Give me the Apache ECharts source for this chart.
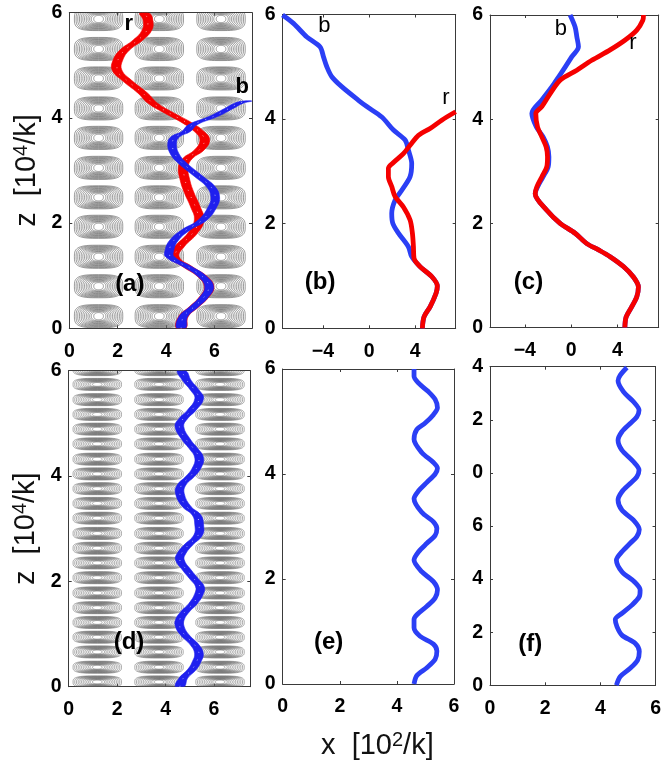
<!DOCTYPE html>
<html><head><meta charset="utf-8">
<style>html,body{margin:0;padding:0;background:#fff}#c{width:664px;height:765px}</style>
<script src="https://cdn.jsdelivr.net/npm/echarts@6/dist/echarts.min.js"></script>
</head><body><div id="c"></div>
<script>
// [x, z] pairs
var sharedLowA = [[4.62,0],[4.71,.22],[5.16,.41],[5.58,.60],[5.78,.79],[5.51,.98],[4.89,1.17]];
var blueA = sharedLowA.concat([[4.16,1.36],[4.14,1.49],[4.34,1.68],[4.82,1.87],[5.51,2.06],[5.92,2.31],[6.03,2.50],[5.85,2.69],[5.37,2.88],[4.68,3.14],[4.34,3.33],[4.25,3.52],[4.38,3.64],[4.82,3.74],[5.10,3.87],[5.92,4.02],[6.60,4.18],[7.01,4.28],[7.36,4.32]]);
var redA = sharedLowA.concat([[4.34,1.36],[4.55,1.55],[5.10,1.81],[5.37,2.06],[5.21,2.31],[4.96,2.57],[4.78,2.82],[4.71,3.07],[4.89,3.23],[5.37,3.39],[5.60,3.58],[5.37,3.74],[4.89,3.90],[4.14,4.09],[3.45,4.28],[3.04,4.47],[2.36,4.72],[1.97,4.91],[2.01,5.10],[2.29,5.29],[2.84,5.48],[3.21,5.67],[3.25,5.86],[3.11,5.99]]);
var sharedLowB = [[4.61,0],[4.76,.22],[5.28,.41],[5.80,.67],[5.91,.81],[5.42,.99],[4.41,1.18]];
var redB = sharedLowB.concat([[3.89,1.34],[3.84,1.56],[3.75,1.82],[3.55,2.07],[2.97,2.32],[2.25,2.52],[1.96,2.71],[1.67,2.90],[1.67,3.06],[2.16,3.18],[2.97,3.34],[3.69,3.54],[4.27,3.69],[5.28,3.82],[6.29,3.98],[7.50,4.14]]);
var blueB = sharedLowB.concat([[3.69,1.37],[3.40,1.56],[2.54,1.82],[2.05,2.01],[1.96,2.20],[2.25,2.45],[2.83,2.64],[3.55,2.90],[3.69,3.15],[3.40,3.41],[3.12,3.60],[2.11,3.79],[1.10,4.04],[-0.20,4.24],[-0.92,4.36],[-2.37,4.62],[-3.23,4.81],[-3.66,5.0],[-3.95,5.19],[-4.24,5.38],[-5.39,5.57],[-6.55,5.83],[-7.5,5.99]]);
var redC = [[4.63,0],[4.74,.20],[5.23,.40],[5.66,.59],[5.80,.78],[5.37,.97],[4.51,1.17],[3.36,1.36],[2.36,1.49],[1.35,1.61],[.34,1.81],[-.95,2.0],[-2.10,2.25],[-3.10,2.57],[-2.96,2.70],[-2.53,2.89],[-2.10,3.09],[-2.04,3.28],[-2.16,3.47],[-2.53,3.66],[-2.90,3.85],[-3.05,4.11],[-2.53,4.24],[-1.81,4.49],[-.95,4.75],[.49,4.94],[1.78,5.13],[3.36,5.33],[4.66,5.52],[5.66,5.71],[6.18,5.90],[6.24,6.0]];
var blueC = redC.slice(0,14).concat([[-2.90,2.70],[-2.43,2.89],[-1.98,3.09],[-1.92,3.28],[-2.05,3.47],[-2.42,3.66],[-3.00,3.85],[-3.39,4.11],[-2.53,4.37],[-1.67,4.62],[-1.09,4.81],[-.52,5.0],[.06,5.2],[.63,5.39],[.49,5.58],[.34,5.77],[-.09,6.0]]);
var blueD = [[4.59,0],[4.73,.16],[5.08,.32],[5.28,.47],[5.38,.63],[5.21,.79],[4.80,.98],[4.59,1.14],[4.59,1.27],[4.80,1.42],[5.14,1.58],[5.39,1.77],[5.42,1.90],[5.21,2.03],[4.87,2.22],[4.59,2.41],[4.66,2.53],[4.94,2.69],[5.35,2.88],[5.39,3.07],[5.28,3.26],[4.87,3.42],[4.59,3.67],[4.66,3.83],[5.01,3.99],[5.28,4.15],[5.39,4.34],[5.14,4.53],[4.87,4.68],[4.57,4.94],[4.73,5.09],[5.08,5.25],[5.39,5.47],[5.21,5.63],[4.87,5.82],[4.66,6.0]];
var blueE = [[4.60,0],[4.70,.16],[5.05,.31],[5.34,.47],[5.40,.63],[5.28,.76],[4.81,.91],[4.60,1.07],[4.60,1.23],[4.70,1.32],[5.05,1.48],[5.34,1.64],[5.42,1.79],[5.28,1.95],[4.87,2.14],[4.60,2.36],[4.76,2.52],[5.05,2.68],[5.34,2.83],[5.40,2.96],[5.28,3.09],[4.87,3.27],[4.60,3.53],[4.76,3.68],[5.05,3.84],[5.34,4.0],[5.42,4.11],[5.28,4.22],[4.87,4.41],[4.60,4.66],[4.70,4.85],[4.99,4.97],[5.28,5.13],[5.42,5.26],[5.34,5.42],[5.10,5.57],[4.76,5.73],[4.60,5.86],[4.60,6.0]];
var blueF = [[4.58,0],[4.72,.33],[5.08,.64],[5.35,.95],[5.41,1.27],[5.26,1.58],[4.78,1.89],[4.60,2.21],[4.54,2.48],[4.78,2.71],[5.14,3.02],[5.41,3.34],[5.44,3.59],[5.23,3.90],[4.78,4.28],[4.58,4.72],[4.78,5.03],[5.08,5.35],[5.32,5.60],[5.41,5.87],[5.20,6.22],[4.78,6.60],[4.64,6.98],[4.78,7.29],[5.08,7.60],[5.32,7.85],[5.40,8.11],[5.20,8.42],[4.78,8.86],[4.64,9.23],[4.78,9.55],[5.08,9.86],[5.32,10.11],[5.40,10.36],[5.20,10.68],[4.84,11.05],[4.64,11.47],[4.72,11.68],[4.96,11.97]];

// contour cells
var cellXA = [1.21,3.72,6.27];
var cellZA = [.23,.80,1.36,1.93,2.49,3.05,3.62,4.18,4.75,5.31,5.88];
var cellXD = [1.18,3.73,6.25];
var cellZD = [.09,.37,.66,.94,1.22,1.50,1.78,2.07,2.35,2.63,2.91,3.20,3.48,3.76,4.04,4.32,4.61,4.89,5.17,5.45,5.74,6.02];
var contourLevels = [1,.93,.86,.79,.72,.65,.58,.51,.44,.37,.30,.2];

// tick values and tick labels
var ticksX06 = [0,2,4,6];
var ticksXSym = [-4,0,4];
var ticksZ = [0,2,4,6];
var ticksZF = [0,2,4,6,8,10,12];
var labelsZF = ['0','2','4','6','0','2','4'];

// annotations [x, z, text]
var notesA = [[2.5,.84,'(a)']];
var tagsA = [[2.46,5.78,'r'],[7.15,4.58,'b']];
var notesB = [[-4.24,.87,'(b)']];
var tagsB = [[-3.87,5.78,'b'],[6.66,4.41,'r']];
var notesC = [[-3.68,.86,'(c)']];
var tagsC = [[-.89,5.74,'b'],[5.32,5.47,'r']];
var notesD = [[2.49,.84,'(d)']];
var notesE = [[1.61,.80,'(e)']];
var notesF = [[1.46,1.56,'(f)']];

var FONT = '"Liberation Sans", Arial, sans-serif';
var RED = '#f50000', BLUE = '#2b3ff5', RIBBON = '#1f20ee', AXIS = '#3a3a3a';

var panels = [
  {l:69.3, r:252,   t:12.7, b:328.3, xr:[0,7.55],  xt:ticksX06, zr:[0,6],  zt:ticksZ},
  {l:282.5,r:455.7, t:14.5, b:328.3, xr:[-7.5,7.5],xt:ticksXSym, zr:[0,6], zt:ticksZ},
  {l:490,  r:658.7, t:15,   b:327.5, xr:[-7,7.55], xt:ticksXSym, zr:[0,6], zt:ticksZ},
  {l:68.7, r:250.3, t:370.7,b:686.7, xr:[0,7.5],   xt:ticksX06, zr:[0,6],  zt:ticksZ},
  {l:282.7,r:454,   t:369,  b:686.7, xr:[0,6],     xt:ticksX06, zr:[0,6],  zt:ticksZ},
  {l:490,  r:657.3, t:366.7,b:685.3, xr:[0,6],     xt:ticksX06, zr:[0,12], zt:ticksZF, zl:labelsZF}
];

var grid = [], xAxis = [], yAxis = [], series = [];
var sup = {a:{fontFamily:FONT,fontSize:29,color:'#111',verticalAlign:'bottom',lineHeight:30},
           s:{fontFamily:FONT,fontSize:20,color:'#111',verticalAlign:'top',lineHeight:30,padding:[0,0,14,0]}};
panels.forEach(function(p,i){
  grid.push({left:p.l,top:p.t,width:p.r-p.l,height:p.b-p.t,containLabel:false});
  var lineSt = {show:true,onZero:false,lineStyle:{color:AXIS,width:1}};
  var tickBase = {show:true,inside:true,length:3,lineStyle:{color:AXIS,width:1}};
  var lab = {show:true,fontFamily:FONT,fontWeight:'bold',fontSize:19.5,color:'#000'};
  xAxis.push({type:'value',gridIndex:i,position:'bottom',min:p.xr[0],max:p.xr[1],axisLine:lineSt,splitLine:{show:false},
    axisTick:Object.assign({customValues:p.xt},tickBase),
    axisLabel:Object.assign({customValues:p.xt,margin:13,formatter:function(v){return v<0?'\u2212'+(-v):''+v;}},lab)});
  xAxis.push({type:'value',gridIndex:i,position:'top',min:p.xr[0],max:p.xr[1],axisLine:lineSt,splitLine:{show:false},
    axisTick:Object.assign({customValues:p.xt},tickBase),axisLabel:{show:false}});
  yAxis.push({type:'value',gridIndex:i,position:'left',min:p.zr[0],max:p.zr[1],axisLine:lineSt,splitLine:{show:false},
    axisTick:Object.assign({customValues:p.zt},tickBase),
    axisLabel:Object.assign({customValues:p.zt,margin:7,formatter:function(v){
      return p.zl ? p.zl[p.zt.indexOf(v)] : ''+v;}},lab)});
  yAxis.push({type:'value',gridIndex:i,position:'right',min:p.zr[0],max:p.zr[1],axisLine:lineSt,splitLine:{show:false},
    axisTick:Object.assign({customValues:p.zt},tickBase),axisLabel:{show:false}});
});
// axis titles
yAxis[0].name = '{a|z  [10}{s|4}{a|/k]}'; yAxis[6].name = '{a|z  [10}{s|4}{a|/k]}';
[0,6].forEach(function(k){ Object.assign(yAxis[k],{nameLocation:'middle',nameRotate:90,nameGap:28,nameTextStyle:{rich:sup}}); });
xAxis[8].name = '{a|x  [10}{s|2}{a|/k]}';
Object.assign(xAxis[8],{nameLocation:'middle',nameGap:46,nameTextStyle:{rich:sup,padding:[0,0,0,18]}});

function axes(i){ return {xAxisIndex:2*i,yAxisIndex:2*i}; }

function contours(i,xs,zs,hw,hh,lw){
  var cells=[]; xs.forEach(function(x){ zs.forEach(function(z){ cells.push([x,z]); }); });
  series.push(Object.assign({type:'custom',silent:true,clip:true,coordinateSystem:'cartesian2d',z:1,data:cells,
    encode:{x:0,y:1},
    renderItem:function(params,api){
      var cx=api.value(0), cz=api.value(1), ch=[];
      contourLevels.forEach(function(s){
        var q = 2/(2 + 1.3*s);   // rounder rings toward the middle of a cell
        var pts=[];
        for(var a=0;a<56;a++){
          var t=a/56*2*Math.PI, ct=Math.cos(t), st=Math.sin(t);
          var u=(ct<0?-1:1)*Math.pow(Math.abs(ct),q);
          var v=(st<0?-1:1)*Math.pow(Math.abs(st),q);
          pts.push(api.coord([cx+hw*s*u, cz+hh*(0.14+0.86*s)*v]));
        }
        ch.push({type:'polygon',shape:{points:pts},style:{fill:null,stroke:'#666',lineWidth:lw}});
      });
      return {type:'group',children:ch};
    }},axes(i)));
}
function ribbon(i,data,halfW,color,z){
  series.push(Object.assign({type:'custom',silent:true,clip:true,coordinateSystem:'cartesian2d',z:z,data:[data[0]],
    encode:{x:0,y:1},
    renderItem:function(params,api){
      var left=data.map(function(d){return api.coord([d[0]-halfW,d[1]]);});
      var right=data.map(function(d){return api.coord([d[0]+halfW,d[1]]);}).reverse();
      return {type:'polygon',shape:{points:left.concat(right),smooth:0.45},style:{fill:color,stroke:color,lineWidth:0.6,lineJoin:'round'}};
    }},axes(i)));
  series.push(Object.assign({type:'line',data:data,silent:true,showSymbol:false,smooth:0.3,z:z+1,
    lineStyle:{color:'#fff',width:0.9,type:[1,7],opacity:0.7},animation:false},axes(i)));
}
function curve(i,data,color,z){
  series.push(Object.assign({type:'line',data:data,silent:true,showSymbol:false,smooth:0.3,clip:true,z:z,
    lineStyle:{color:color,width:4.8,cap:'butt',join:'round'},animation:false},axes(i)));
}
function notes(i,data,bold,size){
  series.push(Object.assign({type:'custom',silent:true,coordinateSystem:'cartesian2d',z:20,data:data,clip:false,
    encode:{x:0,y:1},
    renderItem:function(params,api){
      var c=api.coord([api.value(0),api.value(1)]);
      return {type:'text',x:c[0],y:c[1],style:{text:data[params.dataIndex][2],fontFamily:FONT,fontWeight:bold?'bold':'normal',fontSize:size,fill:'#000',align:'center',verticalAlign:'middle'}};
    }},axes(i)));
}

contours(0,cellXA,cellZA,1.0,.22,.65);
ribbon(0,redA,.2,RED,5);
ribbon(0,blueA,.18,RIBBON,7);
notes(0,notesA,true,24); notes(0,tagsA,true,22);
curve(1,blueB,BLUE,5); curve(1,redB,RED,6);
notes(1,notesB,true,24); notes(1,tagsB,false,22);
curve(2,blueC,BLUE,5); curve(2,redC,RED,6);
notes(2,notesC,true,24); notes(2,tagsC,false,22);
contours(3,cellXD,cellZD,1.0,.115,.55);
ribbon(3,blueD,.18,RIBBON,5);
notes(3,notesD,true,24);
curve(4,blueE,BLUE,5); notes(4,notesE,true,24);
curve(5,blueF,BLUE,5); notes(5,notesF,true,24);

var chart = echarts.init(document.getElementById('c'),null,{renderer:'canvas'});
chart.setOption({animation:false,backgroundColor:'#fff',grid:grid,xAxis:xAxis,yAxis:yAxis,series:series});
</script></body></html>
